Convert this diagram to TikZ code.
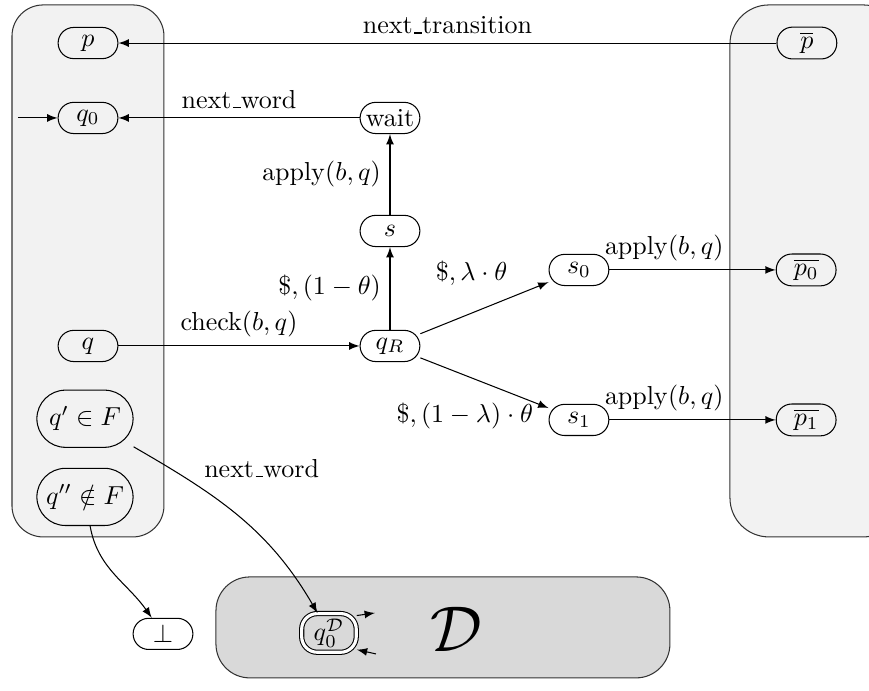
\documentclass[tikz,border=0pt]{standalone}
\usepackage{tikz}
\usetikzlibrary{arrows}
\newcommand\usc{\leavevmode\kern.06em\vbox{\hrule width.3em height.5pt}}
\tikzset{
  st/.style={draw, rectangle, rounded corners=6pt, minimum width=23pt, minimum height=12pt, inner sep=2pt},
  bigst/.style={draw, rectangle, rounded corners=11pt, minimum width=37pt, minimum height=22pt, inner sep=2pt},
  box/.style={draw=black!80, fill=black!5, rounded corners=12pt},
}

\begin{document}
\begin{tikzpicture}[>=latex]
		%%%%% START %%%%%
		\useasboundingbox (0,0) rectangle (11.75,9.342);
		
		% the three boxes
		\draw[box] (0.162,2.082) rectangle (2.217,9.275);
		\draw[box, rounded corners=15pt] (9.87,2.082) rectangle (12.2,9.275);
		\draw[box, fill=black!15, rounded corners=13pt] (2.92,0.176) rectangle (9.058,1.541);
		
		% left box
		\node[st] (p) at (1.19,8.76) {$p$};
		\node[st] (q0) at (1.19,7.747) {$q_0$};
		\node[st] (q) at (1.19,4.664) {$q$};
		\node[bigst] (qin) at (1.149,3.68) {$q'\in F$};
		\node[bigst] (qout) at (1.149,2.623) {$q''\notin F$};
		\coordinate (init) at (0.243,7.747);
		
		% middle
		\node[st] (wait) at (5.273,7.747) {wait};
		\node[st] (s) at (5.273,6.219) {$s$};
		\node[st] (qR) at (5.273,4.664) {$q_R$};
		\node[st] (s0) at (7.828,5.692) {$s_0$};
		\node[st] (s1) at (7.828,3.664) {$s_1$};
		
		% right box
		\node[st] (pbar) at (10.91,8.76) {$\overline{p}$};
		\node[st] (pbar0) at (10.90,5.692) {$\overline{p_0}$};
		\node[st] (pbar1) at (10.90,3.664) {$\overline{p_1}$};
		
		% bottom
		\node[st] (bot) at (2.204,0.771) {$\bot$};
		\node[st, double, double distance=1.2pt, minimum width=21pt, minimum height=14pt] (qD) at (4.448,0.784) {$q_0^{\mathcal{D}}$};
		\node (D) at (6.165,0.825) {\Huge $\mathcal{D}$};
		\coordinate (dout) at (5.07,1.054);
		\coordinate (din) at (5.083,0.50);
		
		% transitions
		\draw[->] (pbar) -- node[above] {next\usc transition} (p);
		\draw[->] (init) -- (q0);
		\draw[->] (wait) -- node[above] {next\usc word} (q0);
		\draw[->] (s) -- node[left] {$\mathrm{apply}(b,q)$} (wait);
		\draw[->] (qR) -- node[left] {$\$,(1-\theta)$} (s);
		\draw[->] (q) -- node[above] {$\mathrm{check}(b,q)$} (qR);
		\draw[->] (qR) -- node[above left, pos=.75] {$\$,\lambda\cdot\theta$} (s0);
		\draw[->] (qR) -- node[left, pos=.95, yshift=-4pt] {$\$,(1-\lambda)\cdot\theta$} (s1);
		\draw[->] (s0) -- node[above, pos=.33] {$\mathrm{apply}(b,q)$} (pbar0);
		\draw[->] (s1) -- node[above, pos=.33] {$\mathrm{apply}(b,q)$} (pbar1);
		\draw[->] (qin) to[out=-30, in=120] node[right, pos=.27, yshift=6pt] {next\usc word} (qD);
		\draw[->] (qout) to[out=-80, in=125] (bot);
		\draw[->] (qD.32) -- (dout);
		\draw[->] (din) -- (qD.-31);
		
		%%%%% END %%%%%
\end{tikzpicture}
\end{document}
